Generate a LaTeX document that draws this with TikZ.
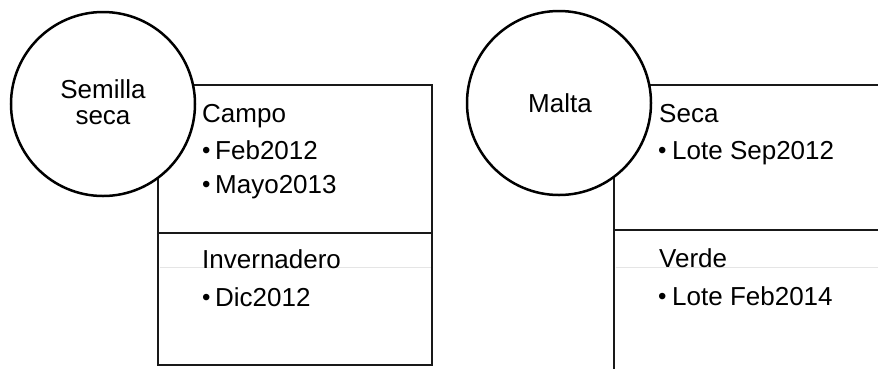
\documentclass[tikz,border=0pt]{standalone}
\usepackage{fontspec}
\setmainfont{Liberation Sans}
\begin{document}
\begin{tikzpicture}[x=1pt,y=-1pt,
  boxline/.style={draw=black!90,line width=2.5pt},
  guide/.style={draw=black!10,line width=1.5pt},
  bubble/.style={draw=black,line width=2.5pt,fill=white},
  lbl/.style={anchor=base west,inner sep=0pt,font=\fontsize{26}{30}\selectfont},
  bul/.style={anchor=base west,inner sep=0pt,font=\fontsize{24}{28}\selectfont},
  clbl/.style={anchor=base,inner sep=0pt,font=\fontsize{26}{30}\selectfont}]
\clip (0,0) rectangle (878,368);
\fill[white] (0,0) rectangle (878,368);
% left boxes
\draw[boxline] (158,85) rectangle (432,233);
\draw[boxline] (158,233) rectangle (432,365);
\draw[guide] (159.5,267.5) -- (430.5,267.5);
% right boxes
\draw[boxline] (614,85) rectangle (900,230);
\draw[boxline] (614,230) rectangle (900,400);
\draw[guide] (615.5,267.5) -- (878,267.5);
% circles
\draw[bubble] (103,104) circle (92);
\draw[bubble] (559,103) circle (92);
% circle labels
\node[clbl] (s1) at (103,98) {Semilla};
\node[clbl] (s2) at (103,124) {seca};
\node[clbl] (m1) at (560,112) {Malta};
% left texts
\node[lbl] (campo) at (202,122) {Campo};
\node[bul] (b1) at (202,158) {•};
\node[lbl] (feb) at (215,159) {Feb2012};
\node[bul] (b2) at (202,192) {•};
\node[lbl] (mayo) at (215,193) {Mayo2013};
\node[lbl] (inv) at (202,268) {Invernadero};
\node[bul] (b3) at (202,305) {•};
\node[lbl] (dic) at (215,306) {Dic2012};
% right texts
\node[lbl] (seca) at (659,122) {Seca};
\node[bul] (b4) at (658,158) {•};
\node[lbl] (sep) at (672,159) {Lote Sep2012};
\node[lbl] (verde) at (659,267) {Verde};
\node[bul] (b5) at (658,304) {•};
\node[lbl] (lfeb) at (672,305) {Lote Feb2014};
\end{tikzpicture}
\end{document}
